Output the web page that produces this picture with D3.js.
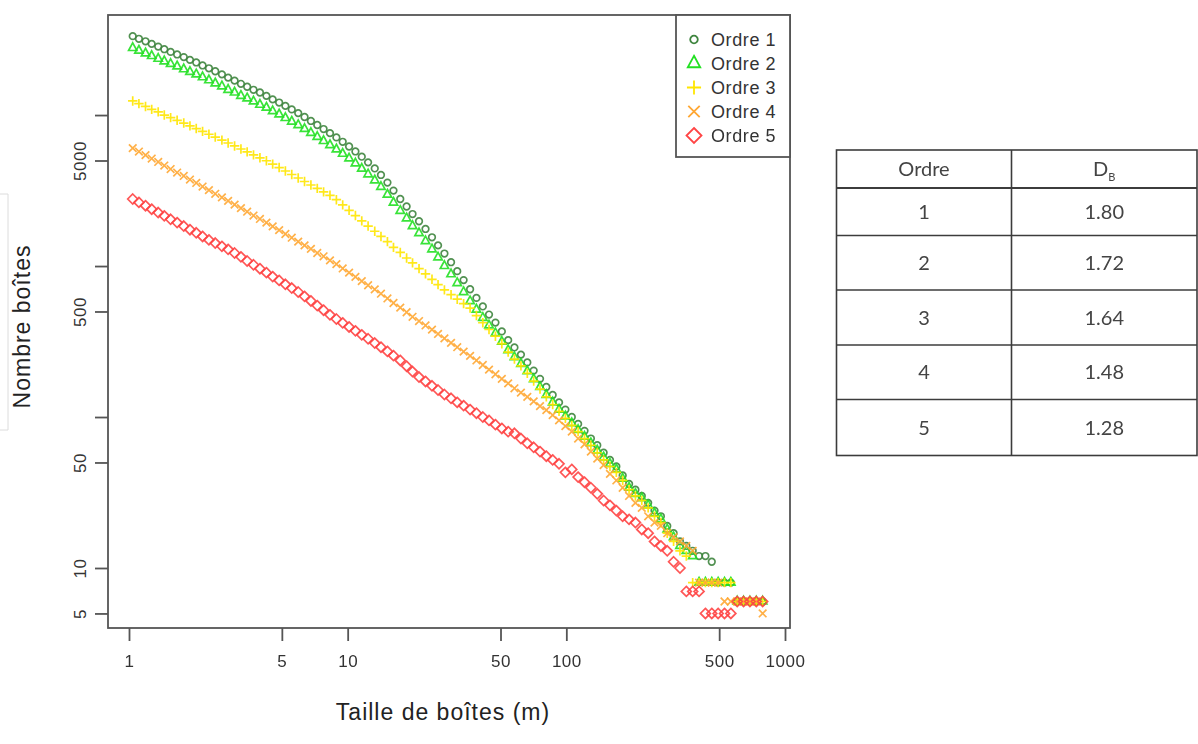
<!DOCTYPE html>
<html><head><meta charset="utf-8">
<script src="https://cdn.jsdelivr.net/npm/d3@7"></script>
<style>body{margin:0;background:#fff}svg{display:block}</style>
</head><body>
<svg id="c" width="1198" height="744"></svg>
<script>
// ---------- data ----------
const boxSizes = [1.04,1.11,1.19,1.27,1.36,1.45,1.55,1.66,1.78,1.90,2.03,2.17,2.32,2.48,2.66,2.84,3.04,3.25,3.47,3.71,3.97,4.25,4.54,4.86,5.19,5.55,5.94,6.35,6.79,7.26,7.76,8.30,8.88,9.49,10.15,10.85,11.6,12.4,13.3,14.2,15.2,16.2,17.4,18.6,19.8,21.2,22.7,24.3,25.9,27.7,29.7,31.7,33.9,36.3,38.8,41.5,44.3,47.4,50.7,54.2,57.9,62.0,66.3,70.9,75.8,81.0,86.6,92.6,99.0,105.9,113.2,121.1,129.5,138.5,148.1,158.3,169.3,181.0,193.6,207.0,221.3,236.7,253.1,270.6,289.4,309.4,330.9,353.8,378.3,404.5,432.5,462.5,494.5,528.8,565.4,604.6,646.5,691.3,739.2,790.4];
const ordre1 = [33300,32000,30800,29600,28400,27300,26200,25200,24200,23200,22300,
  21300,20400,19500,18600,17700,16900,16100,15400,14700,14100,13400,
  12700,12100,11500,10900,10300,9710,9140,8590,8080,7590,
  7110,6650,6190,5740,5300,4860,4430,4010,3570,3160,
  2780,2480,2210,1980,1760,1550,1370,1210,1060,925,
  807,702,615,540,477,422,369,323,289,259,
  230,203,179,158,140,125,112,100,90,81,
  72,65,58,52,47,41,36,33,30,27,
  24,22,19,17,15,14,13,12,12,11,
  8,8,8,6,6,6,6,6];
const ordre2 = [27800,26700,25600,24600,23600,22700,21800,21000,20100,19300,18600,
  17800,17000,16200,15500,14700,14100,13400,12900,12300,11700,11200,
  10600,10100,9560,9050,8580,8090,7610,7160,6730,6320,
  5920,5540,5160,4780,4410,4050,3690,3340,2970,2630,
  2320,2070,1840,1650,1460,1290,1140,1000,882,771,
  672,585,515,454,404,359,315,277,249,225,
  201,178,158,140,125,112,101,91,82,74,
  67,60,54,49,45,39,34,31,29,26,
  23,21,18,16,14,13,12,8,8,8,
  8,8,8,6,6,6,6,6];
const ordre3 = [12400,11900,11400,10900,10500,10000,9620,9230,8850,8480,8140,
  7800,7460,7140,6820,6530,6240,5960,5700,5450,5210,4980,
  4730,4490,4260,4040,3830,3630,3440,3270,3100,2940,
  2750,2540,2340,2160,1990,1840,1700,1570,1450,1330,
  1230,1130,1050,961,887,817,753,695,646,603,
  564,527,470,421,380,343,306,269,242,218,
  195,173,153,136,121,109,98,88,80,72,
  65,58,52,47,43,38,33,30,28,25,
  22,20,17,15,13,12,8,8,8,8,
  8,8,8,6,6,6,6,6];
const ordre4 = [6040,5730,5430,5150,4890,4630,4390,4160,3950,3740,3550,
  3360,3180,3010,2850,2700,2550,2420,2290,2160,2050,1940,
  1830,1730,1630,1540,1450,1370,1300,1220,1160,1090,
  1030,964,904,848,795,746,700,656,610,569,
  530,494,461,432,404,379,355,332,310,290,
  271,254,237,221,206,192,179,167,155,145,
  136,127,118,111,103,95,87,80,72,66,
  59,53,48,42,38,34,30,27,25,22,
  20,19,17,16,15,14,13,8,8,8,
  8,6,6,6,6,6,6,5];
const ordre5 = [2780,2640,2510,2380,2260,2150,2040,1940,1840,1740,1660,
  1570,1490,1420,1350,1290,1220,1150,1080,1020,960,904,
  851,803,757,715,673,630,587,547,510,475,
  446,420,395,372,350,330,309,290,272,255,
  237,217,200,184,172,161,151,141,133,125,
  119,112,106,100,95,89,84,80,78,72,
  67,63,59,55,52,49,43,45,40,37,
  34,31,28,26,24,22,21,20,18,17,
  15,14,13,11,10,7,7,7,5,5,
  5,5,5,6,6,6,6,6];
const seriesNames = ["Ordre 1","Ordre 2","Ordre 3","Ordre 4","Ordre 5"];
const seriesColors = ["#3f853f","#22e022","#ffe600","#ffa733","#ff4444"];
const seriesShapes = ["circle","triangle","plus","cross","diamond"];
const xTicks = [1,5,10,50,100,500,1000];
const xTickLabels = ["1","5","10","50","100","500","1000"];
const yTicks = [5,10,50,100,500,1000,5000,10000];
const yTickLabels = ["5","10","50","","500","","5000",""];
const xTitle = "Taille de boîtes (m)";
const yTitle = "Nombre boîtes";
const tableHeader = ["Ordre","D"];
const tableOrders = ["1","2","3","4","5"];
const tableDB = ["1.80","1.72","1.64","1.48","1.28"];

// ---------- layout ----------
const svg = d3.select("#c");
const defs = svg.append("defs");
defs.append("filter").attr("id","soft").append("feGaussianBlur").attr("stdDeviation",0.45);
const frame = {l:108, t:15, r:790, b:628};
const x = d3.scaleLog().domain([1,1000]).range([129,785]);
const y = d3.scaleLog().domain([10,5000]).range([568,160.5]);
const font = "'Liberation Sans', Arial, sans-serif";

function markerPath(type, k){
  switch(type){
    case "circle": { const r=3.3*k; return `M${r},0A${r},${r} 0 1,1 ${-r},0A${r},${r} 0 1,1 ${r},0Z`; }
    case "triangle": { const a=8.3*k; return `M0,${-0.62*a}L${a/2},${0.3*a}L${-a/2},${0.3*a}Z`; }
    case "plus": { const a=4.7*k; return `M${-a},0H${a}M0,${-a}V${a}`; }
    case "cross": { const a=3.8*k; return `M${-a},${-a}L${a},${a}M${-a},${a}L${a},${-a}`; }
    case "diamond": { const a=5.0*k; return `M0,${-a}L${a},0L0,${a}L${-a},0Z`; }
  }
}

// faint page artifact at left
svg.append("path").attr("d","M0,194H8V430H0").attr("fill","none").attr("stroke","#dcdcdc").attr("stroke-width",1);

// points
const allSeries = [ordre1,ordre2,ordre3,ordre4,ordre5];
const gp = svg.append("g").attr("filter","url(#soft)");
allSeries.forEach((vals,si)=>{
  gp.append("g").selectAll("path").data(vals.map((v,i)=>({x:boxSizes[i],y:v}))).join("path")
    .attr("transform",d=>`translate(${x(d.x)},${y(d.y)})`)
    .attr("d",markerPath(seriesShapes[si],1))
    .attr("fill","none")
    .attr("stroke",seriesColors[si])
    .attr("stroke-width",1.7)
    .attr("stroke-opacity",0.9);
});

// frame
svg.append("rect").attr("x",frame.l).attr("y",frame.t)
  .attr("width",frame.r-frame.l).attr("height",frame.b-frame.t)
  .attr("fill","none").attr("stroke","#555").attr("stroke-width",1.8);

// x axis
const gx = svg.append("g").attr("transform",`translate(0,${frame.b})`)
  .call(d3.axisBottom(x).tickValues(xTicks).tickFormat((d,i)=>xTickLabels[i]).tickSize(13).tickPadding(14));
gx.select(".domain").remove();
gx.selectAll("line").attr("stroke","#555").attr("stroke-width",1.8);
gx.selectAll("text").attr("font-family",font).attr("font-size",17).attr("fill","#333").style("letter-spacing","0.5px");

// y axis
const gy = svg.append("g").attr("transform",`translate(${frame.l},0)`)
  .call(d3.axisLeft(y).tickValues(yTicks).tickFormat((d,i)=>yTickLabels[i]).tickSize(13));
gy.select(".domain").remove();
gy.selectAll("line").attr("stroke","#555").attr("stroke-width",1.8);
gy.selectAll("text").attr("x",null).attr("dy",null)
  .attr("transform","translate(-22,0) rotate(-90)")
  .attr("text-anchor","middle")
  .attr("font-family",font).attr("font-size",17).attr("fill","#333").style("letter-spacing","0.5px");

// titles
svg.append("text").attr("x",(frame.l+frame.r)/2-6).attr("y",720).attr("text-anchor","middle")
  .attr("font-family",font).attr("font-size",23).attr("fill","#222").style("letter-spacing","1px").text(xTitle);
svg.append("text").attr("transform",`translate(30,${(frame.t+frame.b)/2+5}) rotate(-90)`).attr("text-anchor","middle")
  .attr("font-family",font).attr("font-size",23).attr("fill","#222").style("letter-spacing","1px").text(yTitle);

// legend
const lg = svg.append("g");
lg.append("rect").attr("x",676).attr("y",frame.t).attr("width",frame.r-676).attr("height",142)
  .attr("fill","#fff").attr("stroke","#555").attr("stroke-width",1.8);
seriesNames.forEach((n,i)=>{
  const yy = 39.5 + 24*i;
  lg.append("path").attr("transform",`translate(694,${yy})`)
    .attr("d",markerPath(seriesShapes[i], i===0?1.15:1.5))
    .attr("fill","none").attr("stroke",seriesColors[i]).attr("stroke-width",1.8);
  lg.append("text").attr("x",711).attr("y",yy).attr("dy","0.36em")
    .attr("font-family",font).attr("font-size",18).attr("fill","#333").style("letter-spacing","0.6px").text(n);
});

// table
const tb = svg.append("g");
const tL = 836.5, tM = 1011.5, tR = 1197;
const rowLines = [150,188,235.5,290,345,399.5,455.5];
tb.append("rect").attr("x",tL).attr("y",rowLines[0]).attr("width",tR-tL).attr("height",rowLines[6]-rowLines[0])
  .attr("fill","none").attr("stroke","#3c3c3c").attr("stroke-width",1.6);
rowLines.slice(1,6).forEach((ly,i)=>{
  tb.append("line").attr("x1",tL).attr("x2",tR).attr("y1",ly).attr("y2",ly)
    .attr("stroke","#3c3c3c").attr("stroke-width",i===0?2.2:1.6);
});
tb.append("line").attr("x1",tM).attr("x2",tM).attr("y1",rowLines[0]).attr("y2",rowLines[6])
  .attr("stroke","#3c3c3c").attr("stroke-width",1.6);
const tfont = "Lato, 'Open Sans', sans-serif";
const c1 = (tL+tM)/2, c2 = (tM+tR)/2;
tb.append("text").attr("x",c1).attr("y",(rowLines[0]+rowLines[1])/2).attr("dy","0.36em").attr("text-anchor","middle")
  .attr("font-family",tfont).attr("font-size",20).attr("fill","#444").text(tableHeader[0]);
const dbt = tb.append("text").attr("x",c2).attr("y",(rowLines[0]+rowLines[1])/2).attr("dy","0.36em").attr("text-anchor","middle")
  .attr("font-family",tfont).attr("font-size",20).attr("fill","#444");
dbt.append("tspan").text(tableHeader[1]);
dbt.append("tspan").attr("font-size",11).attr("dy","5").text("B");
tableOrders.forEach((o,i)=>{
  const cy = (rowLines[i+1]+rowLines[i+2])/2;
  tb.append("text").attr("x",c1).attr("y",cy).attr("dy","0.36em").attr("text-anchor","middle")
    .attr("font-family",tfont).attr("font-size",20).attr("fill","#444").text(o);
  tb.append("text").attr("x",c2).attr("y",cy).attr("dy","0.36em").attr("text-anchor","middle")
    .attr("font-family",tfont).attr("font-size",20).attr("fill","#444").text(tableDB[i]);
});
</script>
</body></html>
